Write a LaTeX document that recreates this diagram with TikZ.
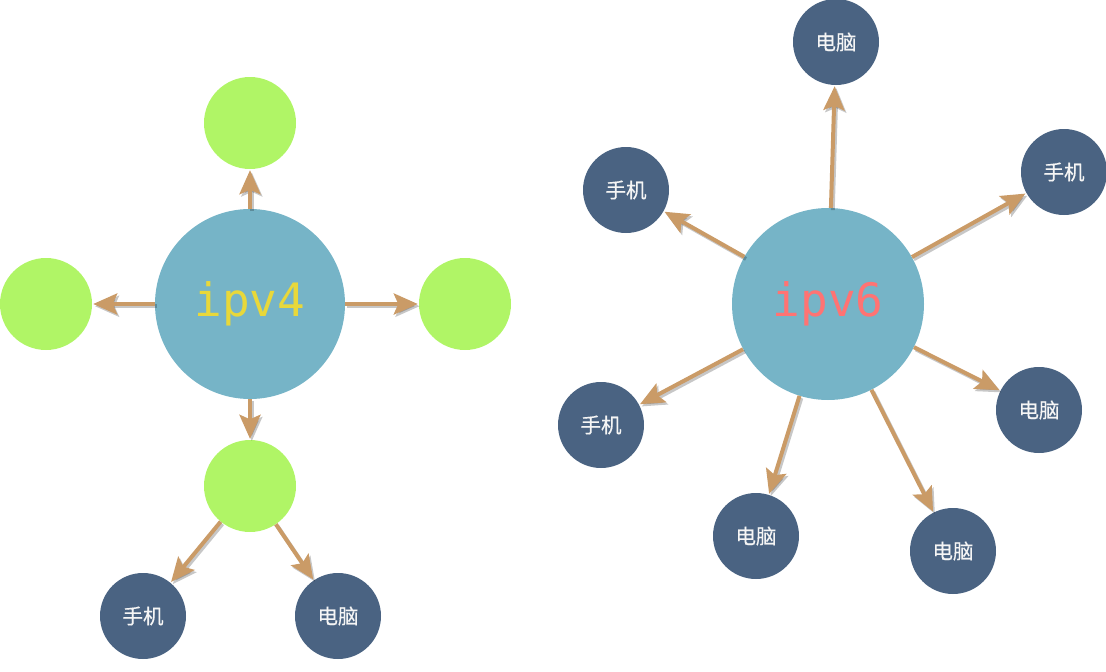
\documentclass[tikz,border=0pt]{standalone}
\usepackage{fontspec}
\newfontfamily\cjk[FakeBold=0.5]{Noto Sans CJK SC}
\newfontfamily\mono{DejaVu Sans Mono}
\usetikzlibrary{arrows.meta}
\definecolor{hub}{RGB}{118,180,199}
\definecolor{leaf}{RGB}{176,245,102}
\definecolor{dev}{RGB}{74,99,130}
\definecolor{tan}{RGB}{202,155,103}
\definecolor{yel}{RGB}{232,216,58}
\definecolor{sal}{RGB}{255,115,115}
\tikzset{
  hubnode/.style={circle,fill=hub,minimum size=190pt,inner sep=0pt,font=\mono\fontsize{46}{46}\selectfont},
  leafnode/.style={circle,fill=leaf,minimum size=92pt,inner sep=0pt},
  devnode/.style={circle,fill=dev,minimum size=86pt,inner sep=0pt,text=white!92!gray,font=\cjk\fontsize{20.5}{21}\selectfont},
  arr/.style={draw=tan,line width=4pt,-{Stealth[length=24pt,width=21pt,inset=4.5pt]},shorten >=1pt},
  shad/.style={draw=black,opacity=0.22,line width=4pt,-{Stealth[length=24pt,width=21pt,inset=4.5pt]},shorten >=1pt,transform canvas={shift={(1.8pt,-2.2pt)}}},
}
\begin{document}
\begin{tikzpicture}[x=1pt,y=-1pt]
\useasboundingbox (0,0) rectangle (1106,672);
% left
\node[hubnode,text=yel] (c4) at (250,304) {ipv4};
\node[leafnode] (gt) at (250,123) {};
\node[leafnode] (gl) at (46,304) {};
\node[leafnode] (gr) at (465,304) {};
\node[leafnode] (gb) at (250,486) {};
\node[devnode] (lp) at (143,616) {手机};
\node[devnode] (lc) at (338,616) {电脑};
% right
\node[hubnode,text=sal,minimum size=192pt] (c6) at (828,304) {ipv6};
\node[devnode] (r1) at (836,42) {电脑};
\node[devnode] (r2) at (626,190) {手机};
\node[devnode] (r3) at (1064,172) {手机};
\node[devnode] (r4) at (1039,410) {电脑};
\node[devnode] (r5) at (601,425) {手机};
\node[devnode] (r6) at (756,536) {电脑};
\node[devnode] (r7) at (953,551) {电脑};
% arrows
\foreach \a/\b in {c4/gt,c4/gl,c4/gr,c4/gb,gb/lp,gb/lc,c6/r1,c6/r2,c6/r3,c6/r4,c6/r5,c6/r6,c6/r7}{
  \draw[shad] (\a) -- (\b);
  \draw[arr] (\a) -- (\b);
}
\end{tikzpicture}
\end{document}
